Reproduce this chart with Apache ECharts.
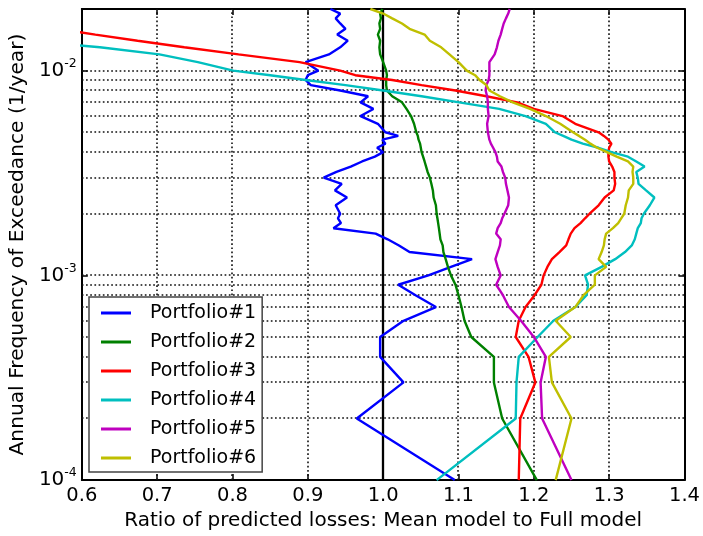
<!DOCTYPE html>
<html>
<head>
<meta charset="utf-8">
<script src="https://cdn.jsdelivr.net/npm/echarts@6/dist/echarts.min.js"></script>
<style>
  html, body { margin: 0; padding: 0; background: #fff; }
  #chart { width: 703px; height: 536px; }
</style>
</head>
<body>
<div id="chart"></div>
<script>
// Annual frequency of exceedance levels (1/year) shared by every portfolio curve
const frequency = [
  0.0001, 0.0002, 0.0003, 0.0004, 0.0005, 0.0006, 0.0007, 0.0008, 0.0009, 0.0010,
  0.0011, 0.0012, 0.0013, 0.0014, 0.0015, 0.0016, 0.0017, 0.0018, 0.0019, 0.0020,
  0.0022, 0.0024, 0.0026, 0.0028, 0.0030, 0.0032, 0.0034, 0.0036, 0.0038, 0.0040,
  0.0042, 0.0044, 0.0046, 0.0048, 0.0050,
  0.0055, 0.0060, 0.0065, 0.0070, 0.0075, 0.0080, 0.0085, 0.0090, 0.0095, 0.0100,
  0.011, 0.012, 0.013, 0.014, 0.015, 0.016, 0.017, 0.018, 0.019, 0.020
];

// Ratio of predicted losses (mean model / full model) at each frequency level
const portfolio1 = [
  1.095, 0.965, 1.027, 0.996, 0.996, 1.027, 1.070, 1.043, 1.020, 1.060,
  1.090, 1.118, 1.035, 1.021, 1.006, 0.990, 0.934, 0.944, 0.940, 0.943,
  0.937, 0.952, 0.936, 0.945, 0.921, 0.938, 0.957, 0.972, 0.989, 1.000,
  0.992, 1.003, 0.999, 1.020, 1.003,
  0.993, 0.970, 0.987, 0.970, 0.980, 0.943, 0.904, 0.897, 0.900, 0.914,
  0.897, 0.928, 0.943, 0.953, 0.939, 0.950, 0.943, 0.937, 0.943, 0.930
];
const portfolio2 = [
  1.204, 1.158, 1.147, 1.147, 1.117, 1.108, 1.104, 1.100, 1.096, 1.090,
  1.086, 1.083, 1.080, 1.079, 1.076, 1.075, 1.074, 1.073, 1.072, 1.071,
  1.070, 1.067, 1.066, 1.064, 1.062, 1.059, 1.057, 1.055, 1.053, 1.051,
  1.050, 1.049, 1.047, 1.046, 1.044,
  1.041, 1.037, 1.031, 1.025, 1.012, 1.005, 1.004, 1.004, 1.005, 1.004,
  1.000, 0.996, 0.995, 0.996, 0.993, 0.996, 0.995, 0.997, 0.996, 0.999
];
const portfolio3 = [
  1.180, 1.182, 1.202, 1.193, 1.176, 1.180, 1.189, 1.201, 1.210, 1.213,
  1.218, 1.224, 1.234, 1.243, 1.246, 1.249, 1.254, 1.262, 1.268, 1.274,
  1.286, 1.294, 1.306, 1.308, 1.307, 1.307, 1.304, 1.300, 1.299, 1.299,
  1.300, 1.303, 1.299, 1.293, 1.286,
  1.255, 1.238, 1.200, 1.178, 1.137, 1.096, 1.051, 1.012, 0.963, 0.943,
  0.889, 0.808, 0.736, 0.674, 0.618, 0.568, 0.522, 0.478, 0.436, 0.396
];
const portfolio4 = [
  1.071, 1.176, 1.177, 1.180, 1.205, 1.226, 1.255, 1.270, 1.272, 1.268,
  1.290, 1.308, 1.321, 1.330, 1.334, 1.336, 1.338, 1.342, 1.343, 1.346,
  1.354, 1.360, 1.349, 1.339, 1.338, 1.336, 1.347, 1.336, 1.325, 1.303,
  1.286, 1.265, 1.250, 1.239, 1.228,
  1.216, 1.189, 1.154, 1.101, 1.051, 1.000, 0.950, 0.897, 0.850, 0.801,
  0.754, 0.703, 0.624, 0.529, 0.440, 0.370, 0.310, 0.260, 0.220, 0.180
];
const portfolio5 = [
  1.250, 1.211, 1.209, 1.216, 1.200, 1.183, 1.167, 1.159, 1.150, 1.156,
  1.152, 1.149, 1.152, 1.155, 1.156, 1.150, 1.152, 1.156, 1.158, 1.161,
  1.166, 1.167, 1.165, 1.163, 1.162, 1.159, 1.157, 1.152, 1.151, 1.149,
  1.146, 1.143, 1.141, 1.140, 1.139,
  1.138, 1.140, 1.139, 1.139, 1.138, 1.136, 1.137, 1.140, 1.141, 1.141,
  1.141, 1.148, 1.151, 1.153, 1.156, 1.158, 1.160, 1.163, 1.166, 1.168
];
const portfolio6 = [
  1.229, 1.250, 1.224, 1.220, 1.249, 1.229, 1.255, 1.266, 1.281, 1.281,
  1.296, 1.286, 1.290, 1.293, 1.294, 1.296, 1.305, 1.312, 1.316, 1.320,
  1.322, 1.325, 1.326, 1.332, 1.332, 1.331, 1.332, 1.325, 1.310, 1.297,
  1.284, 1.275, 1.268, 1.260, 1.252,
  1.235, 1.216, 1.195, 1.172, 1.155, 1.141, 1.137, 1.128, 1.122, 1.111,
  1.100, 1.088, 1.077, 1.062, 1.055, 1.035, 1.025, 1.012, 1.000, 0.983
];

const seriesNames = ['Portfolio#1', 'Portfolio#2', 'Portfolio#3', 'Portfolio#4', 'Portfolio#5', 'Portfolio#6'];
const seriesValues = [portfolio1, portfolio2, portfolio3, portfolio4, portfolio5, portfolio6];
const seriesColors = ['#0000ff', '#008000', '#ff0000', '#00bfbf', '#bf00bf', '#bfbf00'];

// Axis ranges
const X_MIN = 0.6, X_MAX = 1.4, X_STEP = 0.1;
const Y_MIN = 0.0001, Y_MAX = 0.02;

// Dotted gridlines: every log level (2..9 x 10^k) and every interior ratio tick
const logGridLevels = [
  0.0002, 0.0003, 0.0004, 0.0005, 0.0006, 0.0007, 0.0008, 0.0009,
  0.001, 0.002, 0.003, 0.004, 0.005, 0.006, 0.007, 0.008, 0.009, 0.01
];
const ratioGridLevels = [0.7, 0.8, 0.9, 1.1, 1.2, 1.3];
// Solid reference line where both models agree
const unityRatio = [1.0];

const FONT = 'DejaVu Sans';
const DOT_DASH = [1.7, 2.5];
const DOT_WIDTH = 1.6;

const chart = echarts.init(document.getElementById('chart'), null, { renderer: 'canvas' });

function hLine(width, dash, color) {
  return function (params, api) {
    const level = api.value(0);
    const a = api.coord([X_MIN, level]);
    const b = api.coord([X_MAX, level]);
    const y = Math.round(a[1]);
    return {
      type: 'line',
      shape: { x1: a[0], y1: y, x2: b[0], y2: y },
      style: { stroke: color, lineWidth: width, lineDash: dash, fill: null }
    };
  };
}
function vLine(width, dash, color) {
  return function (params, api) {
    const r = api.value(0);
    const a = api.coord([r, Y_MIN]);
    const b = api.coord([r, Y_MAX]);
    const x = Math.round(a[0]);
    return {
      type: 'line',
      shape: { x1: x, y1: a[1], x2: x, y2: b[1] },
      style: { stroke: color, lineWidth: width, lineDash: dash, fill: null }
    };
  };
}

const series = [{
  name: 'logGrid',
  type: 'custom',
  silent: true,
  z: 1,
  dimensions: ['level'],
  encode: { y: 0 },
  data: logGridLevels.map(v => [v]),
  renderItem: hLine(DOT_WIDTH, DOT_DASH, '#111')
}, {
  name: 'ratioGrid',
  type: 'custom',
  silent: true,
  z: 1,
  dimensions: ['ratio'],
  encode: { x: 0 },
  data: ratioGridLevels.map(v => [v]),
  renderItem: vLine(DOT_WIDTH, DOT_DASH, '#111')
}, {
  name: 'unity',
  type: 'custom',
  silent: true,
  z: 2,
  dimensions: ['ratio'],
  encode: { x: 0 },
  data: unityRatio.map(v => [v]),
  renderItem: vLine(2.3, null, '#000')
}];
seriesNames.forEach((name, i) => {
  series.push({
    name: name,
    type: 'line',
    z: 3,
    symbol: 'none',
    clip: true,
    color: seriesColors[i],
    lineStyle: { width: 2.4, color: seriesColors[i] },
    data: frequency.map((f, j) => [seriesValues[i][j], f])
  });
});

function logLabel(v) {
  const e = Math.round(Math.log10(v));
  if (Math.abs(v / Math.pow(10, e) - 1) > 1e-6) return '';
  return '{b|10}{s|' + e + '}';
}

const axisLineStyle = { show: true, lineStyle: { color: '#000', width: 2 } };
const tickStyle = { show: true, inside: true, length: 6, lineStyle: { color: '#000', width: 1.5 } };

chart.setOption({
  animation: false,
  backgroundColor: '#fff',
  grid: { left: 79, right: 16, top: 9, bottom: 55, containLabel: false },
  legend: {
    orient: 'vertical',
    left: 89,
    top: 297,
    data: seriesNames,
    icon: 'rect',
    itemWidth: 30,
    itemHeight: 3,
    itemGap: 9,
    padding: [6, 6, 4, 12],
    backgroundColor: '#fff',
    borderColor: '#444',
    borderWidth: 1.5,
    borderRadius: 0,
    selectedMode: false,
    textStyle: { fontFamily: FONT, fontSize: 19, color: '#000', lineHeight: 20, padding: [0, 0, 0, 14] }
  },
  xAxis: [{
    type: 'value',
    position: 'bottom',
    min: X_MIN,
    max: X_MAX,
    interval: X_STEP,
    name: 'Ratio of predicted losses: Mean model to Full model',
    nameLocation: 'middle',
    nameGap: 30,
    nameTextStyle: { fontFamily: FONT, fontSize: 20, color: '#000' },
    axisLine: axisLineStyle,
    axisTick: tickStyle,
    axisLabel: { fontFamily: FONT, fontSize: 19.5, color: '#000', margin: 6, formatter: v => v.toFixed(1) },
    splitLine: { show: false }
  }, {
    type: 'value',
    position: 'top',
    min: X_MIN,
    max: X_MAX,
    interval: X_STEP,
    axisLine: axisLineStyle,
    axisTick: tickStyle,
    axisLabel: { show: false },
    splitLine: { show: false }
  }],
  yAxis: [{
    type: 'log',
    logBase: 10,
    position: 'left',
    min: Y_MIN,
    max: Y_MAX,
    name: 'Annual Frequency of Exceedance (1/year)',
    nameLocation: 'middle',
    nameGap: 47,
    nameTextStyle: { fontFamily: FONT, fontSize: 20.2, color: '#000' },
    axisLine: axisLineStyle,
    axisTick: tickStyle,
    axisLabel: {
      margin: 5,
      color: '#000',
      formatter: logLabel,
      rich: {
        b: { fontFamily: FONT, fontSize: 20, color: '#000' },
        s: { fontFamily: FONT, fontSize: 12.5, color: '#000', padding: [0, 0, 14, 0] }
      }
    },
    splitLine: { show: false }
  }, {
    type: 'log',
    logBase: 10,
    position: 'right',
    min: Y_MIN,
    max: Y_MAX,
    axisLine: axisLineStyle,
    axisTick: tickStyle,
    axisLabel: { show: false },
    splitLine: { show: false }
  }],
  series: series
});
</script>
</body>
</html>
